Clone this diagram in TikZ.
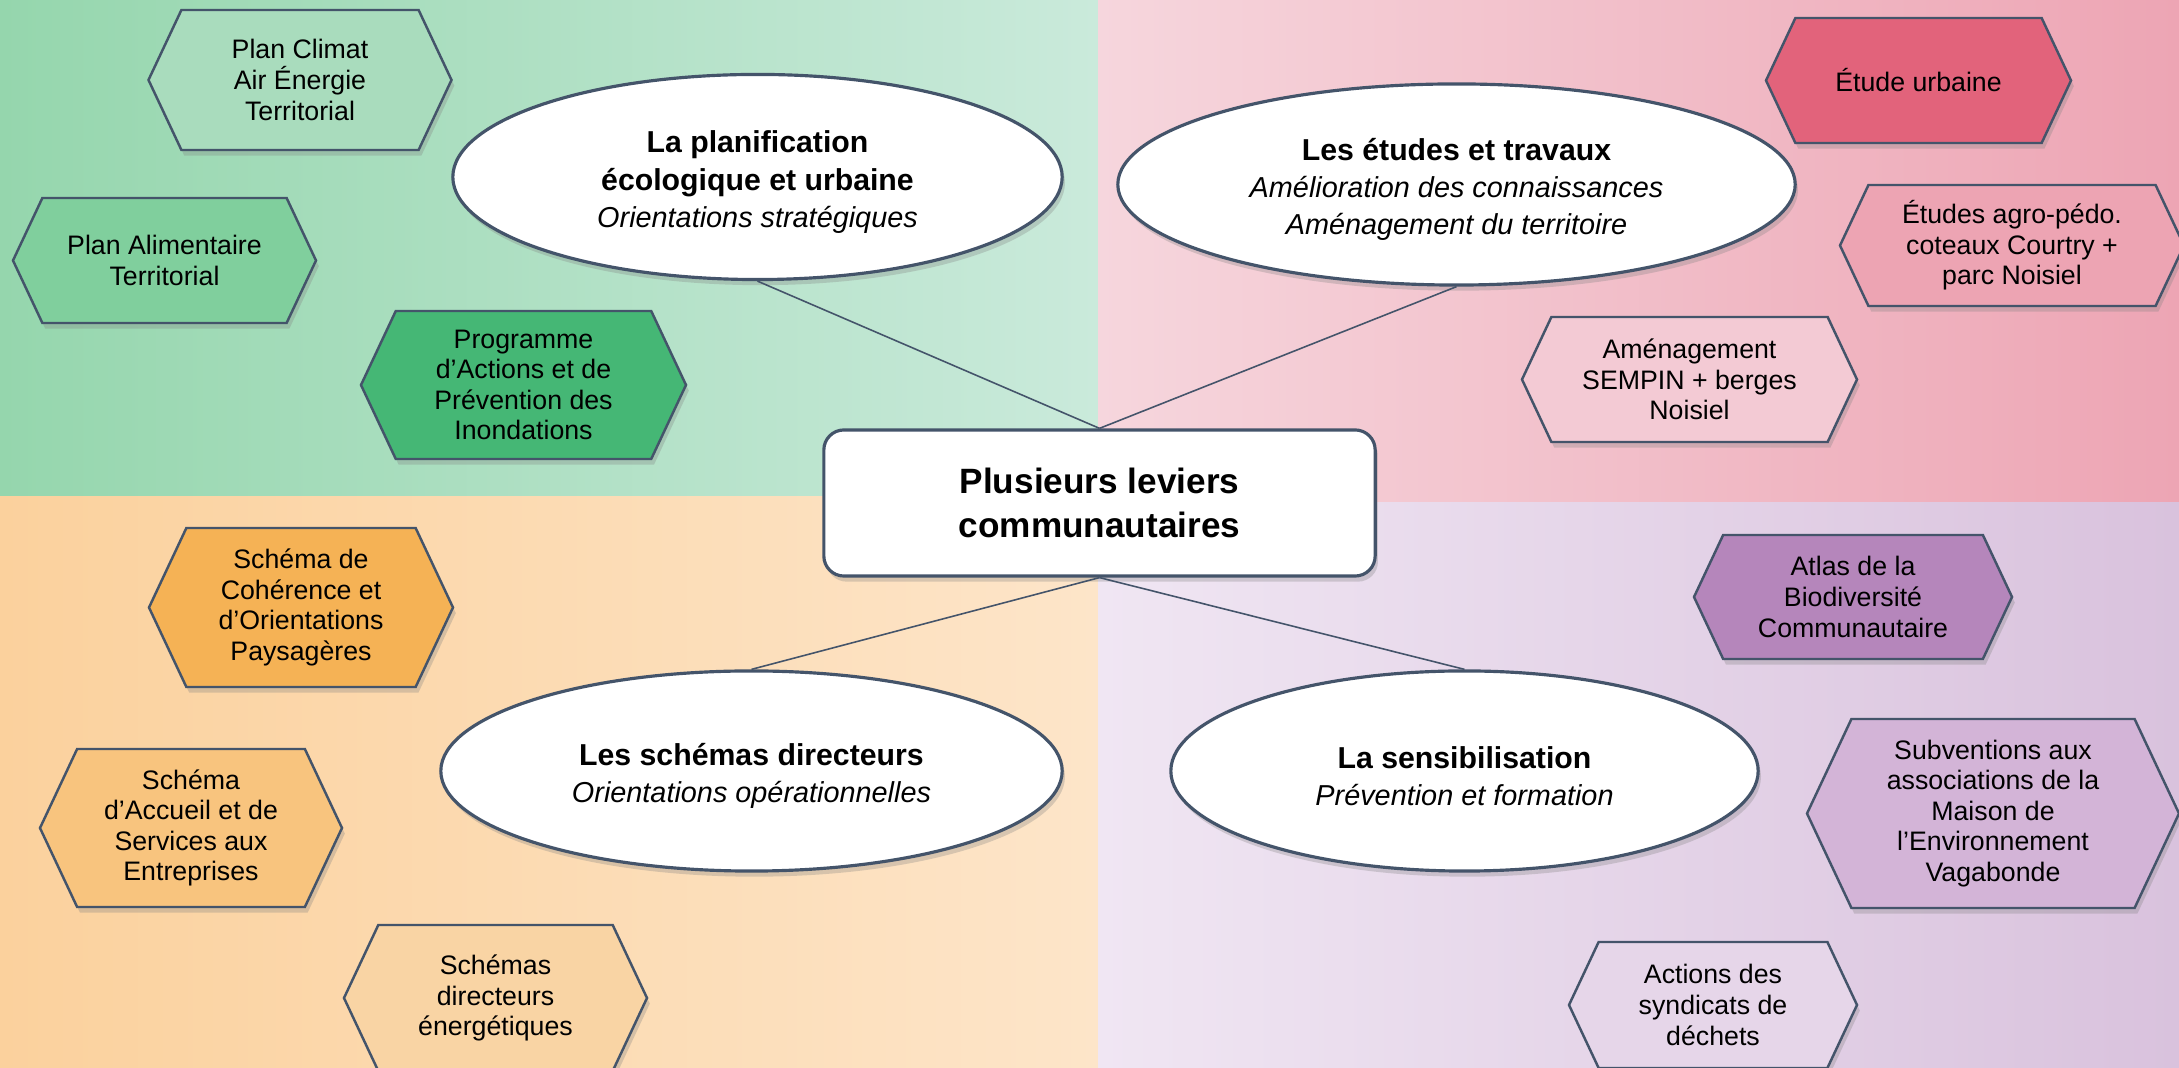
\documentclass[tikz,border=0pt]{standalone}
\usepackage{fontspec}
\setmainfont{Liberation Sans}
\usetikzlibrary{shapes.geometric,shadows}
\definecolor{edge}{HTML}{44546A}
\definecolor{gL}{HTML}{95D6AD}\definecolor{gR}{HTML}{CAEADB}
\definecolor{pL}{HTML}{F6D6DD}\definecolor{pR}{HTML}{EDA5B4}
\definecolor{oL}{HTML}{FBD19D}\definecolor{oR}{HTML}{FDE5C9}
\definecolor{vL}{HTML}{F0E6F3}\definecolor{vR}{HTML}{D9C2DD}
\definecolor{hA}{HTML}{A9DCBD}\definecolor{hB}{HTML}{80CF9D}\definecolor{hC}{HTML}{45B775}
\definecolor{hD}{HTML}{E2637B}\definecolor{hE}{HTML}{EDA4B3}\definecolor{hF}{HTML}{F3CAD4}
\definecolor{hG}{HTML}{F5B255}\definecolor{hH}{HTML}{F8C47E}\definecolor{hI}{HTML}{F9D4A4}
\definecolor{hJ}{HTML}{B586BB}\definecolor{hK}{HTML}{D3B4D7}\definecolor{hL}{HTML}{E6D6E9}
\tikzset{
  myshadow/.style={drop shadow={opacity=0.3,shadow xshift=0.8pt,shadow yshift=-1.6pt}},
  hexline/.style={draw=edge,line width=0.7pt,line join=miter,myshadow},
  hextext/.style={align=center,inner sep=0pt,font=\fontsize{7.6}{8.7}\selectfont},
  bubble/.style={ellipse,draw=edge,line width=0.9pt,fill=white,myshadow,inner sep=0pt,align=center,
     font=\fontsize{8.6}{10.6}\selectfont},
  hub/.style={rectangle,rounded corners=0.2cm,draw=edge,line width=0.9pt,fill=white,myshadow,
     minimum width=5.51cm,minimum height=1.46cm,align=center,font=\fontsize{10}{12.3}\selectfont\bfseries},
  link/.style={draw=edge,line width=0.45pt}
}
\newcommand\myhex[7]{%
  \begin{scope}[shift={(#2,#3)}]
    \pgfmathsetmacro\mhw{#4/2}\pgfmathsetmacro\mhh{#5/2}\pgfmathsetmacro\mhd{#4/2-0.235*#5}
    \draw[hexline,fill=#6] (-\mhd,-\mhh) -- (\mhd,-\mhh) -- (\mhw,0) -- (\mhd,\mhh) -- (-\mhd,\mhh) -- (-\mhw,0) -- cycle;
    \node[hextext] (#1) at (0,0) {#7};
  \end{scope}}
\newcommand\subt[1]{{\fontsize{8.2}{10}\selectfont\itshape #1}}
\newcommand\topstrut{\rule{0pt}{9.2pt}}
\begin{document}
\begin{tikzpicture}[x=0.01cm,y=-0.01cm]
\useasboundingbox (0,0) rectangle (2179,1068);
\clip (0,0) rectangle (2179,1068);
% quadrants
\shade[left color=gL,right color=gR] (0,0) rectangle (1098,497);
\shade[left color=pL,right color=pR] (1098,0) rectangle (2179,503);
\shade[left color=oL,right color=oR] (0,497) rectangle (1098,1068);
\shade[left color=vL,right color=vR] (1098,503) rectangle (2179,1068);
% hexagons
\myhex{pcaet}{300}{80}{303}{140}{hA}{Plan Climat\\Air Énergie\\Territorial}
\myhex{pat}{164.5}{260.5}{303}{125}{hB}{Plan Alimentaire\\Territorial}
\myhex{papi}{523.5}{385}{325}{148}{hC}{Programme\\d'Actions et de\\Prévention des\\Inondations}
\myhex{etu}{1918.5}{80.5}{305}{125}{hD}{Étude urbaine}
\myhex{agro}{2012}{245.5}{344}{121}{hE}{Études agro-pédo.\\coteaux Courtry +\\parc Noisiel}
\myhex{semp}{1689.5}{379.5}{335}{125}{hF}{Aménagement\\SEMPIN + berges\\Noisiel}
\myhex{scop}{301}{607.5}{304}{159}{hG}{Schéma de\\Cohérence et\\d'Orientations\\Paysagères}
\myhex{sase}{191}{828}{302}{158}{hH}{Schéma\\d'Accueil et de\\Services aux\\Entreprises}
\myhex{sde}{495.5}{998}{303}{146}{hI}{Schémas\\directeurs\\énergétiques}
\myhex{abc}{1853}{597}{318}{124}{hJ}{Atlas de la\\Biodiversité\\Communautaire}
\myhex{subv}{1993}{813.5}{372}{189}{hK}{Subventions aux\\associations de la\\Maison de\\l'Environnement\\Vagabonde}
\myhex{synd}{1713}{1005}{288}{126}{hL}{Actions des\\syndicats de\\déchets}
% ellipses
\node[bubble,minimum width=6.09cm,minimum height=2.05cm] (plan) at (757.5,177)
  {\topstrut\textbf{La planification}\\\textbf{écologique et urbaine}\\\subt{Orientations stratégiques}};
\node[bubble,minimum width=6.77cm,minimum height=2.01cm] (etud) at (1456.5,184.5)
  {\topstrut\textbf{Les études et travaux}\\\subt{Amélioration des connaissances}\\\subt{Aménagement du territoire}};
\node[bubble,minimum width=6.21cm,minimum height=2.00cm] (sche) at (751.5,771)
  {\topstrut\textbf{Les schémas directeurs}\\\subt{Orientations opérationnelles}};
\node[bubble,minimum width=5.87cm,minimum height=2.00cm] (sens) at (1464.5,771)
  {\topstrut\textbf{La sensibilisation}\\\subt{Prévention et formation}};
% hub
\node[hub] (hub) at (1099.5,503) {Plusieurs leviers\\communautaires};
% connectors
\draw[link] (hub.north) -- (plan.south);
\draw[link] (hub.north) -- (etud.south);
\draw[link] (hub.south) -- (sche.north);
\draw[link] (hub.south) -- (sens.north);
\end{tikzpicture}
\end{document}
